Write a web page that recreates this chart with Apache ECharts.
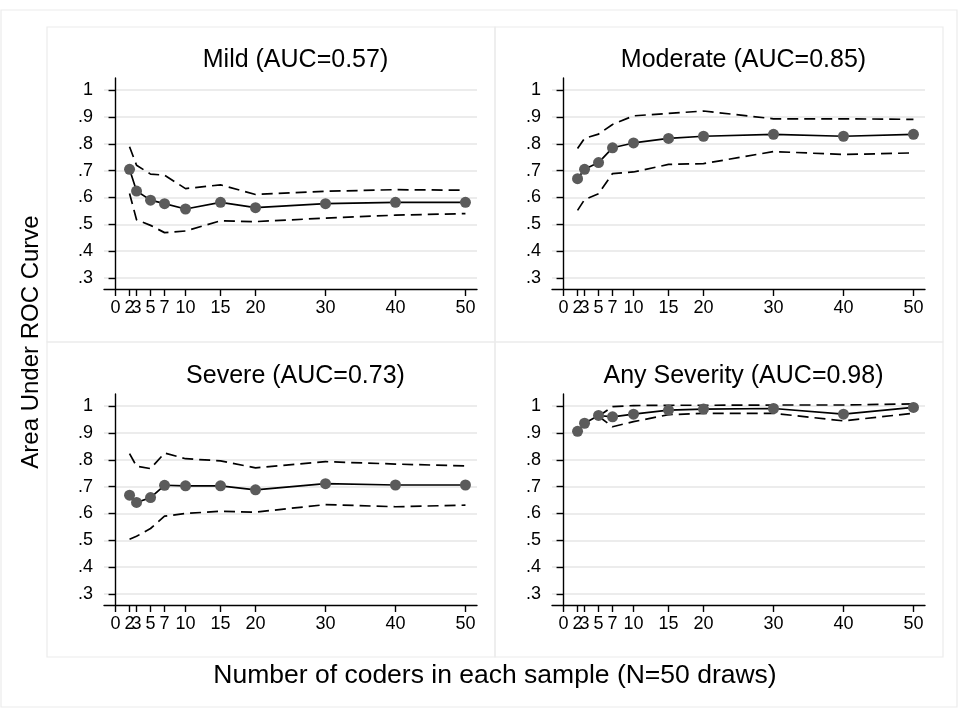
<!DOCTYPE html>
<html>
<head>
<meta charset="utf-8">
<script src="https://cdn.jsdelivr.net/npm/echarts@6/dist/echarts.min.js"></script>
<style>html,body{margin:0;padding:0;background:#fff}#c{width:960px;height:720px}</style>
</head>
<body>
<div id="c"></div>
<script>
// ---- data ----
const coders = [2, 3, 5, 7, 10, 15, 20, 30, 40, 50];
const xTicks = [0, 2, 3, 5, 7, 10, 15, 20, 30, 40, 50];
const yTicks = [0.3, 0.4, 0.5, 0.6, 0.7, 0.8, 0.9, 1.0];
const panelTitles = ['Mild (AUC=0.57)', 'Moderate (AUC=0.85)', 'Severe (AUC=0.73)', 'Any Severity (AUC=0.98)'];

const mildMean  = [0.705, 0.624, 0.590, 0.577, 0.557, 0.582, 0.562, 0.577, 0.582, 0.582];
const mildUpper = [0.789, 0.720, 0.687, 0.683, 0.633, 0.647, 0.611, 0.623, 0.629, 0.627];
const mildLower = [0.615, 0.517, 0.496, 0.469, 0.475, 0.513, 0.510, 0.523, 0.534, 0.540];

const modMean  = [0.670, 0.705, 0.730, 0.785, 0.803, 0.820, 0.828, 0.835, 0.828, 0.835];
const modUpper = [0.782, 0.820, 0.836, 0.872, 0.904, 0.913, 0.922, 0.893, 0.893, 0.891];
const modLower = [0.552, 0.592, 0.614, 0.689, 0.695, 0.723, 0.726, 0.771, 0.760, 0.766];

const sevMean  = [0.668, 0.641, 0.659, 0.705, 0.703, 0.703, 0.688, 0.711, 0.706, 0.706];
const sevUpper = [0.823, 0.776, 0.767, 0.825, 0.804, 0.796, 0.770, 0.793, 0.784, 0.777];
const sevLower = [0.504, 0.515, 0.544, 0.590, 0.600, 0.608, 0.605, 0.633, 0.625, 0.631];

const anyMean  = [0.906, 0.936, 0.965, 0.960, 0.970, 0.985, 0.989, 0.991, 0.970, 0.995];
const anyUpper = [null, null, 0.962, 0.998, 1.002, 1.003, 1.003, 1.004, 1.004, 1.008];
const anyLower = [null, null, 0.962, 0.923, 0.942, 0.968, 0.973, 0.973, 0.945, 0.973];

const panels = [
  [mildMean, mildUpper, mildLower],
  [modMean, modUpper, modLower],
  [sevMean, sevUpper, sevLower],
  [anyMean, anyUpper, anyLower]
];

// ---- layout ----
const FONT = 'Liberation Sans, Arial, Helvetica, sans-serif';
const grids = [
  {left: 104, top: 78, width: 373, height: 211},
  {left: 552, top: 78, width: 373, height: 211},
  {left: 104, top: 394, width: 373, height: 211},
  {left: 552, top: 394, width: 373, height: 211}
];

const pairs = (ys) => coders.map((x, i) => [x, ys[i]]);
const fmtY = (v) => { const s = (+v).toFixed(1); return s === '1.0' ? '1' : s.replace(/^0/, ''); };

const xAxis = [], yAxis = [], series = [], title = [];
grids.forEach((g, i) => {
  xAxis.push({
    type: 'value', gridIndex: i, min: -1.65, max: 51.65,
    axisLine: {show: true, lineStyle: {color: '#000', width: 1.4}},
    axisTick: {show: true, length: 7, lineStyle: {color: '#000', width: 1.4}, customValues: xTicks},
    axisLabel: {show: true, margin: 10, color: '#000', fontSize: 18, fontFamily: FONT, customValues: xTicks, hideOverlap: false},
    splitLine: {show: false}
  });
  yAxis.push({
    type: 'value', gridIndex: i, min: 0.259, max: 1.045,
    axisLine: {show: true, lineStyle: {color: '#000', width: 1.4}},
    axisTick: {show: true, length: 7, lineStyle: {color: '#000', width: 1.4}, customValues: yTicks},
    axisLabel: {show: true, margin: 11, color: '#000', fontSize: 18, fontFamily: FONT, customValues: yTicks, formatter: fmtY},
    splitLine: {show: true, lineStyle: {color: '#e6e6e6', width: 1.5}}
  });
  title.push({
    text: panelTitles[i], left: g.left + g.width / 2, top: g.top - 35, textAlign: 'center',
    textStyle: {fontSize: 25, fontWeight: 'normal', color: '#000', fontFamily: FONT}
  });
  const [m, u, l] = panels[i];
  [u, l].forEach((arr) => series.push({
    type: 'line', xAxisIndex: i, yAxisIndex: i, data: pairs(arr), showSymbol: false, symbol: 'none',
    lineStyle: {color: '#000', width: 1.7, type: [11, 6]}, silent: true, animation: false, z: 3
  }));
  series.push({
    type: 'line', xAxisIndex: i, yAxisIndex: i, data: pairs(m), symbol: 'circle', symbolSize: 11,
    showSymbol: true, itemStyle: {color: '#5b5b5b', borderWidth: 0},
    lineStyle: {color: '#000', width: 1.7}, animation: false, z: 4
  });
});

const rectStyle = {fill: 'none', stroke: '#ececec', lineWidth: 1.2};
const graphic = [
  {type: 'rect', shape: {x: 1, y: 10, width: 956, height: 697}, style: rectStyle, silent: true, z: -10},
  {type: 'rect', shape: {x: 47, y: 27, width: 448, height: 315}, style: rectStyle, silent: true, z: -10},
  {type: 'rect', shape: {x: 495, y: 27, width: 448, height: 315}, style: rectStyle, silent: true, z: -10},
  {type: 'rect', shape: {x: 47, y: 342, width: 448, height: 315}, style: rectStyle, silent: true, z: -10},
  {type: 'rect', shape: {x: 495, y: 342, width: 448, height: 315}, style: rectStyle, silent: true, z: -10},
  {type: 'text', x: 495, y: 676, style: {text: 'Number of coders in each sample (N=50 draws)', fill: '#000',
    font: '26.5px ' + FONT, textAlign: 'center', textVerticalAlign: 'middle'}},
  {type: 'text', x: 31, y: 342, rotation: Math.PI / 2, style: {text: 'Area Under ROC Curve', fill: '#000',
    font: '24px ' + FONT, textAlign: 'center', textVerticalAlign: 'middle'}}
];

const chart = echarts.init(document.getElementById('c'), null, {renderer: 'canvas'});
chart.setOption({
  backgroundColor: '#fff', animation: false,
  grid: grids, xAxis, yAxis, series, title, graphic
});
</script>
</body>
</html>
